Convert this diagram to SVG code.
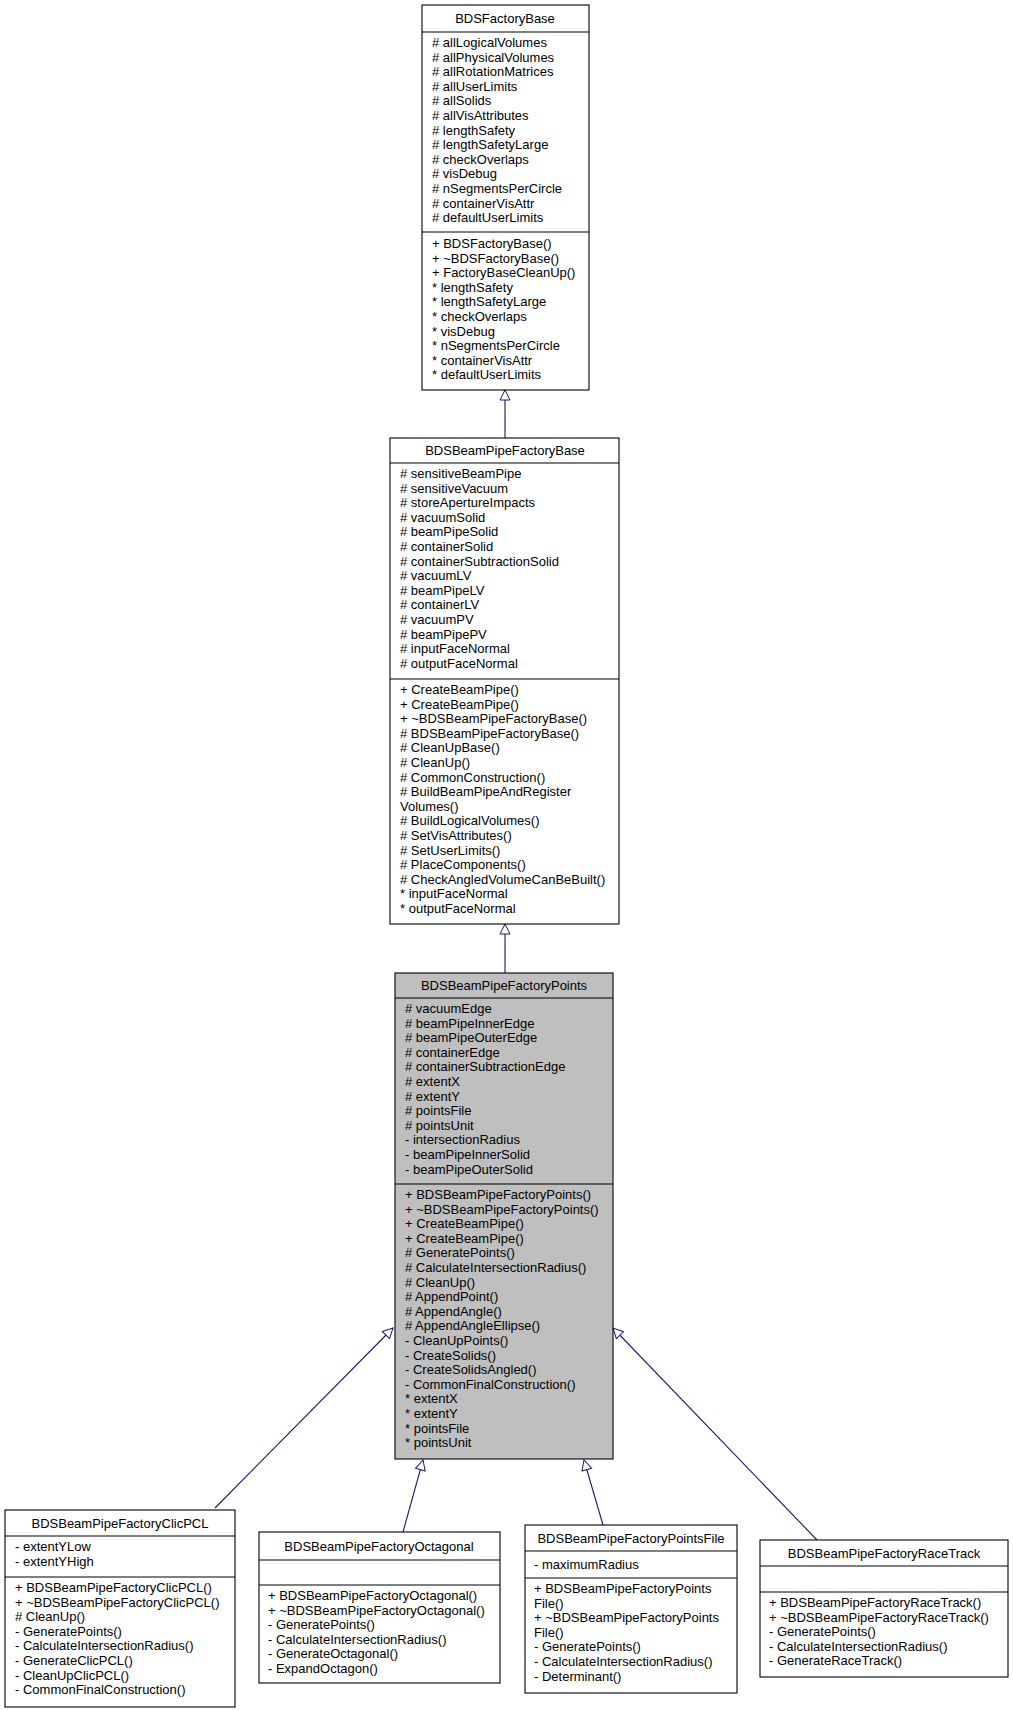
<svg xmlns="http://www.w3.org/2000/svg" width="1013" height="1711" viewBox="0 0 1013 1711">
<style>
.b{fill:#fff;stroke:#000;stroke-width:1.1}
.g{fill:#bfbfbf;stroke:#000;stroke-width:1.1}
.s{stroke:#000;stroke-width:1.1}
text{font-family:"Liberation Sans",Arial,sans-serif;font-size:13px;fill:#000}
.t{text-anchor:middle}
.e{stroke:#191970;stroke-width:1.1;fill:none}
</style>
<defs>
<marker id="h" viewBox="0 0 12 12" refX="11" refY="6" markerWidth="12" markerHeight="12" markerUnits="userSpaceOnUse" orient="auto"><path d="M1,1 L11,6 L1,11 Z" fill="#fff" stroke="#191970" stroke-width="1"/></marker>
</defs>
<rect width="1013" height="1711" fill="#fff"/>
<g id="connectors">
<path class="e" d="M505,438 V390" marker-end="url(#h)"/>
<path class="e" d="M505,973 V924" marker-end="url(#h)"/>
<path class="e" d="M215,1508 L393,1328" marker-end="url(#h)"/>
<path class="e" d="M403,1532 L423,1460" marker-end="url(#h)"/>
<path class="e" d="M603,1525 L584,1460" marker-end="url(#h)"/>
<path class="e" d="M817,1540 L613,1328" marker-end="url(#h)"/>
</g>
<g id="BDSFactoryBase">
<rect class="b" x="422" y="5" width="167" height="385"/>
<line class="s" x1="422" y1="32" x2="589" y2="32"/><line class="s" x1="422" y1="232" x2="589" y2="232"/>
<text class="t" x="505" y="23">BDSFactoryBase</text>
<text x="432" y="47"># allLogicalVolumes</text><text x="432" y="61.6"># allPhysicalVolumes</text><text x="432" y="76.2"># allRotationMatrices</text><text x="432" y="90.8"># allUserLimits</text><text x="432" y="105.4"># allSolids</text><text x="432" y="120"># allVisAttributes</text><text x="432" y="134.6"># lengthSafety</text><text x="432" y="149.2"># lengthSafetyLarge</text><text x="432" y="163.8"># checkOverlaps</text><text x="432" y="178.4"># visDebug</text><text x="432" y="193"># nSegmentsPerCircle</text><text x="432" y="207.6"># containerVisAttr</text><text x="432" y="222.2"># defaultUserLimits</text>
<text x="432" y="248">+ BDSFactoryBase()</text><text x="432" y="262.6">+ ~BDSFactoryBase()</text><text x="432" y="277.2">+ FactoryBaseCleanUp()</text><text x="432" y="291.8">* lengthSafety</text><text x="432" y="306.4">* lengthSafetyLarge</text><text x="432" y="321">* checkOverlaps</text><text x="432" y="335.6">* visDebug</text><text x="432" y="350.2">* nSegmentsPerCircle</text><text x="432" y="364.8">* containerVisAttr</text><text x="432" y="379.4">* defaultUserLimits</text>
</g>
<g id="BDSBeamPipeFactoryBase">
<rect class="b" x="390" y="438" width="229" height="486"/>
<line class="s" x1="390" y1="463" x2="619" y2="463"/><line class="s" x1="390" y1="679" x2="619" y2="679"/>
<text class="t" x="505" y="455">BDSBeamPipeFactoryBase</text>
<text x="400" y="478"># sensitiveBeamPipe</text><text x="400" y="492.6"># sensitiveVacuum</text><text x="400" y="507.2"># storeApertureImpacts</text><text x="400" y="521.8"># vacuumSolid</text><text x="400" y="536.4"># beamPipeSolid</text><text x="400" y="551"># containerSolid</text><text x="400" y="565.6"># containerSubtractionSolid</text><text x="400" y="580.2"># vacuumLV</text><text x="400" y="594.8"># beamPipeLV</text><text x="400" y="609.4"># containerLV</text><text x="400" y="624"># vacuumPV</text><text x="400" y="638.6"># beamPipePV</text><text x="400" y="653.2"># inputFaceNormal</text><text x="400" y="667.8"># outputFaceNormal</text>
<text x="400" y="694">+ CreateBeamPipe()</text><text x="400" y="708.6">+ CreateBeamPipe()</text><text x="400" y="723.2">+ ~BDSBeamPipeFactoryBase()</text><text x="400" y="737.8"># BDSBeamPipeFactoryBase()</text><text x="400" y="752.4"># CleanUpBase()</text><text x="400" y="767"># CleanUp()</text><text x="400" y="781.6"># CommonConstruction()</text><text x="400" y="796.2"># BuildBeamPipeAndRegister</text><text x="400" y="810.8">Volumes()</text><text x="400" y="825.4"># BuildLogicalVolumes()</text><text x="400" y="840"># SetVisAttributes()</text><text x="400" y="854.6"># SetUserLimits()</text><text x="400" y="869.2"># PlaceComponents()</text><text x="400" y="883.8"># CheckAngledVolumeCanBeBuilt()</text><text x="400" y="898.4">* inputFaceNormal</text><text x="400" y="913">* outputFaceNormal</text>
</g>
<g id="BDSBeamPipeFactoryPoints">
<rect class="g" x="395" y="973" width="218" height="486"/>
<line class="s" x1="395" y1="998" x2="613" y2="998"/><line class="s" x1="395" y1="1184" x2="613" y2="1184"/>
<text class="t" x="504" y="990">BDSBeamPipeFactoryPoints</text>
<text x="405" y="1013"># vacuumEdge</text><text x="405" y="1027.6"># beamPipeInnerEdge</text><text x="405" y="1042.2"># beamPipeOuterEdge</text><text x="405" y="1056.8"># containerEdge</text><text x="405" y="1071.4"># containerSubtractionEdge</text><text x="405" y="1086"># extentX</text><text x="405" y="1100.6"># extentY</text><text x="405" y="1115.2"># pointsFile</text><text x="405" y="1129.8"># pointsUnit</text><text x="405" y="1144.4">- intersectionRadius</text><text x="405" y="1159">- beamPipeInnerSolid</text><text x="405" y="1173.6">- beamPipeOuterSolid</text>
<text x="405" y="1199">+ BDSBeamPipeFactoryPoints()</text><text x="405" y="1213.6">+ ~BDSBeamPipeFactoryPoints()</text><text x="405" y="1228.2">+ CreateBeamPipe()</text><text x="405" y="1242.8">+ CreateBeamPipe()</text><text x="405" y="1257.4"># GeneratePoints()</text><text x="405" y="1272"># CalculateIntersectionRadius()</text><text x="405" y="1286.6"># CleanUp()</text><text x="405" y="1301.2"># AppendPoint()</text><text x="405" y="1315.8"># AppendAngle()</text><text x="405" y="1330.4"># AppendAngleEllipse()</text><text x="405" y="1345">- CleanUpPoints()</text><text x="405" y="1359.6">- CreateSolids()</text><text x="405" y="1374.2">- CreateSolidsAngled()</text><text x="405" y="1388.8">- CommonFinalConstruction()</text><text x="405" y="1403.4">* extentX</text><text x="405" y="1418">* extentY</text><text x="405" y="1432.6">* pointsFile</text><text x="405" y="1447.2">* pointsUnit</text>
</g>
<g id="BDSBeamPipeFactoryClicPCL">
<rect class="b" x="5" y="1510" width="230" height="197"/>
<line class="s" x1="5" y1="1536" x2="235" y2="1536"/><line class="s" x1="5" y1="1577" x2="235" y2="1577"/>
<text class="t" x="120" y="1528">BDSBeamPipeFactoryClicPCL</text>
<text x="15" y="1551">- extentYLow</text><text x="15" y="1565.6">- extentYHigh</text>
<text x="15" y="1592">+ BDSBeamPipeFactoryClicPCL()</text><text x="15" y="1606.6">+ ~BDSBeamPipeFactoryClicPCL()</text><text x="15" y="1621.2"># CleanUp()</text><text x="15" y="1635.8">- GeneratePoints()</text><text x="15" y="1650.4">- CalculateIntersectionRadius()</text><text x="15" y="1665">- GenerateClicPCL()</text><text x="15" y="1679.6">- CleanUpClicPCL()</text><text x="15" y="1694.2">- CommonFinalConstruction()</text>
</g>
<g id="BDSBeamPipeFactoryOctagonal">
<rect class="b" x="259" y="1532" width="241" height="151"/>
<line class="s" x1="259" y1="1560" x2="500" y2="1560"/><line class="s" x1="259" y1="1585" x2="500" y2="1585"/>
<text class="t" x="379" y="1551">BDSBeamPipeFactoryOctagonal</text>
<text x="268" y="1600">+ BDSBeamPipeFactoryOctagonal()</text><text x="268" y="1614.6">+ ~BDSBeamPipeFactoryOctagonal()</text><text x="268" y="1629.2">- GeneratePoints()</text><text x="268" y="1643.8">- CalculateIntersectionRadius()</text><text x="268" y="1658.4">- GenerateOctagonal()</text><text x="268" y="1673">- ExpandOctagon()</text>
</g>
<g id="BDSBeamPipeFactoryPointsFile">
<rect class="b" x="525" y="1525" width="212" height="168"/>
<line class="s" x1="525" y1="1551" x2="737" y2="1551"/><line class="s" x1="525" y1="1578" x2="737" y2="1578"/>
<text class="t" x="631" y="1543">BDSBeamPipeFactoryPointsFile</text>
<text x="534" y="1569">- maximumRadius</text>
<text x="534" y="1593">+ BDSBeamPipeFactoryPoints</text><text x="534" y="1607.6">File()</text><text x="534" y="1622.2">+ ~BDSBeamPipeFactoryPoints</text><text x="534" y="1636.8">File()</text><text x="534" y="1651.4">- GeneratePoints()</text><text x="534" y="1666">- CalculateIntersectionRadius()</text><text x="534" y="1680.6">- Determinant()</text>
</g>
<g id="BDSBeamPipeFactoryRaceTrack">
<rect class="b" x="760" y="1540" width="248" height="137"/>
<line class="s" x1="760" y1="1566" x2="1008" y2="1566"/><line class="s" x1="760" y1="1592" x2="1008" y2="1592"/>
<text class="t" x="884" y="1558">BDSBeamPipeFactoryRaceTrack</text>
<text x="769" y="1607">+ BDSBeamPipeFactoryRaceTrack()</text><text x="769" y="1621.6">+ ~BDSBeamPipeFactoryRaceTrack()</text><text x="769" y="1636.2">- GeneratePoints()</text><text x="769" y="1650.8">- CalculateIntersectionRadius()</text><text x="769" y="1665.4">- GenerateRaceTrack()</text>
</g>
</svg>
